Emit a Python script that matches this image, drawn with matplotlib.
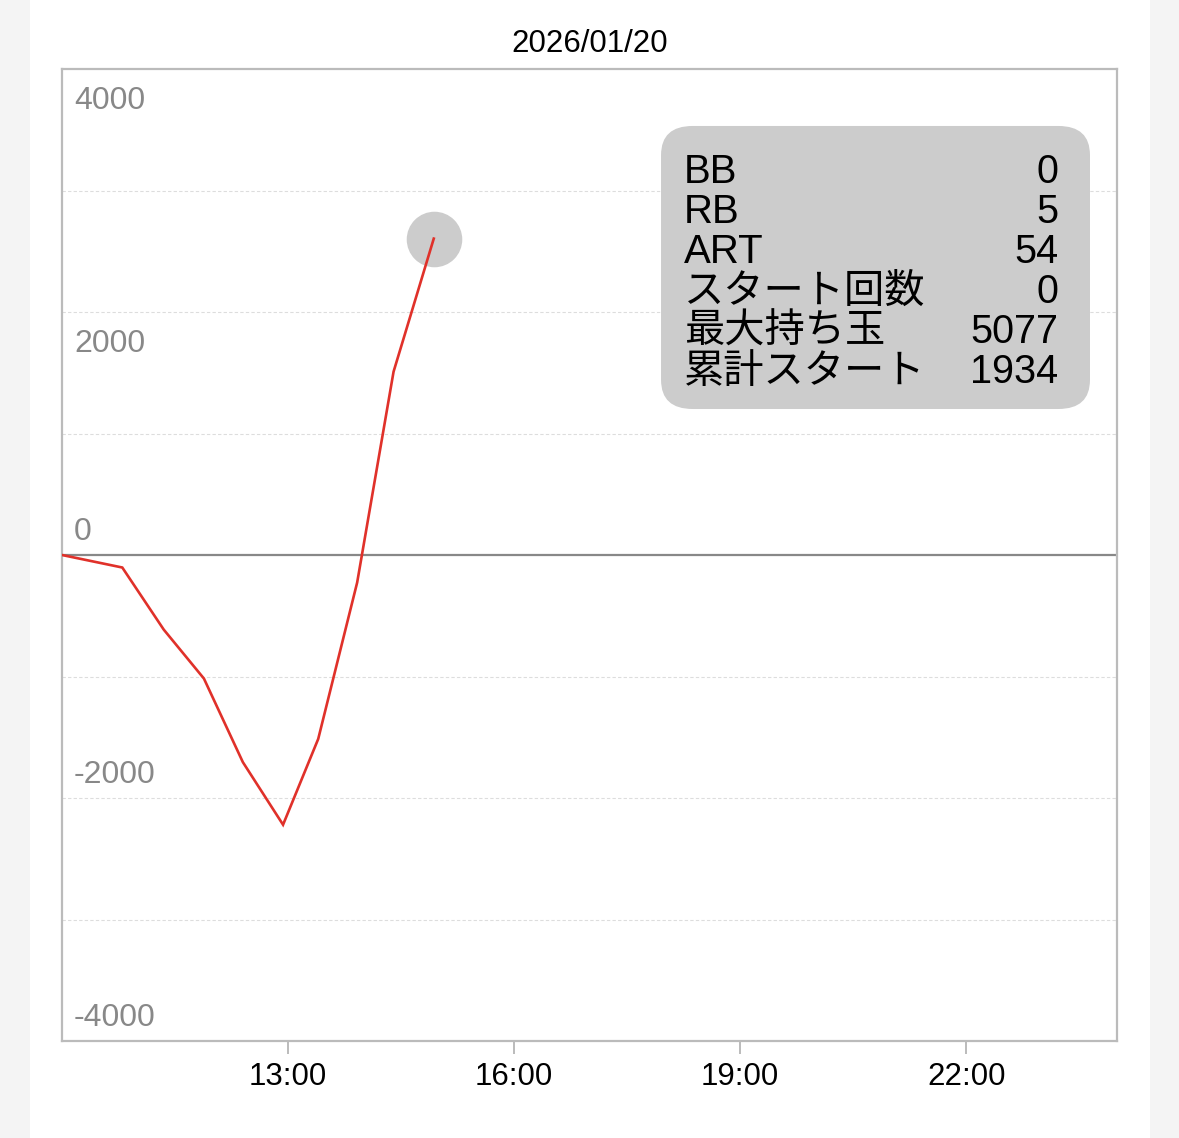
import numpy as np
import matplotlib.pyplot as plt
from matplotlib.patches import FancyBboxPatch, Rectangle
import matplotlib.transforms as mtransforms

plt.rcParams['font.family'] = ['Liberation Sans', 'Noto Sans CJK JP', 'DejaVu Sans']

# data
times = ['10:00', '10:48', '11:21', '11:53', '12:24', '12:56',
         '13:24', '13:55', '14:24', '14:56']
balance = [0, -103, -614, -1017, -1705, -2220, -1514, -227, 1509, 2604]

x_ticks = [13, 16, 19, 22]
x_ticklabels = ['13:00', '16:00', '19:00', '22:00']
y_labels = [4000, 2000, 0, -2000, -4000]
grid_vals = [-3000, -2000, -1000, 1000, 2000, 3000]

title = '2026/01/20'
info_names = ['BB', 'RB', 'ART', 'スタート回数', '最大持ち玉', '累計スタート']
info_values = ['0', '5', '54', '0', '5077', '1934']

hours = [int(t[:2]) + int(t[3:]) / 60 for t in times]

fig = plt.figure(figsize=(11.79, 11.38), dpi=100)
fig.patch.set_facecolor('#f4f4f4')
# white panel behind the chart
fig.patches.append(Rectangle((30 / 1179, 0), 1120 / 1179, 1, transform=fig.transFigure,
                             facecolor='white', edgecolor='none', zorder=-5))

ax = fig.add_axes([62 / 1179, 97 / 1138, 1055 / 1179, 972 / 1138])
ax.set_facecolor('white')
ax.set_xlim(10, 24)
ax.set_ylim(-4000, 4000)

for v in grid_vals:
    ax.axhline(v, color='#dddddd', lw=0.8, ls=(0, (3, 2)), zorder=1)
ax.axhline(0, color='#888888', lw=1.6, zorder=2)

ax.plot(hours[-1], balance[-1], 'o', ms=40, color='#cccccc', mec='none', zorder=3)
ax.plot(hours, balance, color='#e0312a', lw=1.9, zorder=4, solid_joinstyle='miter')

# y labels drawn inside the plot (positive ones below their line, others above)
for v in y_labels:
    dy = -32 if v > 0 else 23
    tr = mtransforms.blended_transform_factory(ax.transAxes, ax.transData)
    tr = tr + mtransforms.ScaledTranslation(0, dy / fig.dpi, fig.dpi_scale_trans)
    ax.text(0.0114, v, str(v), transform=tr, ha='left', va='center',
            fontsize=23, color='#888888')

ax.set_yticks([])
ax.set_xticks(x_ticks)
ax.set_xticklabels(x_ticklabels, fontsize=22.5, color='black')
ax.tick_params(axis='x', direction='out', length=9, width=1.4, color='#bbbbbb', pad=6)
for s in ax.spines.values():
    s.set_color('#bbbbbb')
    s.set_linewidth(1.6)

ax.set_title(title, fontsize=22.5, pad=12)

# info box
box = FancyBboxPatch((0.5678, 0.6502), 0.4066, 0.2912,
                     boxstyle='round,pad=0,rounding_size=0.03',
                     transform=ax.transAxes, facecolor='#cccccc', edgecolor='none', zorder=5)
ax.add_patch(box)
for i, (name, val) in enumerate(zip(info_names, info_values)):
    yb = 0.8827 - i * 0.0411
    ax.text(0.5896, yb, name, transform=ax.transAxes, ha='left', va='baseline',
            fontsize=29, color='black', zorder=6)
    ax.text(0.9441, yb, val, transform=ax.transAxes, ha='right', va='baseline',
            fontsize=28.5, color='black', zorder=6)

plt.savefig('out.png', dpi=100, facecolor=fig.get_facecolor())
